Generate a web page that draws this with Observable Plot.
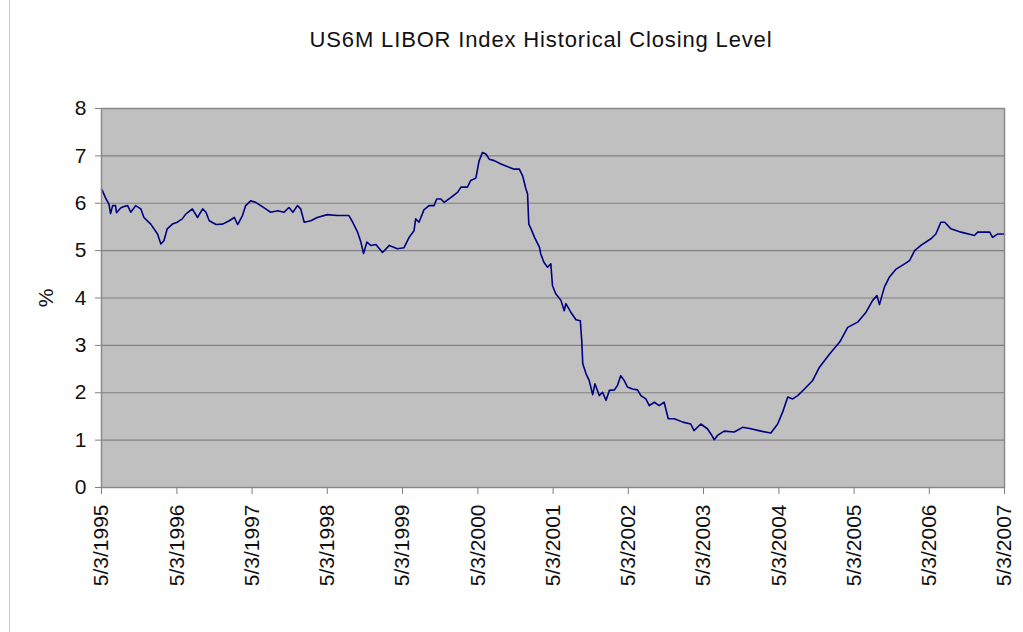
<!DOCTYPE html>
<html>
<head>
<meta charset="utf-8">
<script src="https://cdn.jsdelivr.net/npm/d3@7"></script>
<script src="https://cdn.jsdelivr.net/npm/@observablehq/plot@0.6"></script>
<style>
  html, body { margin: 0; padding: 0; background: #ffffff; }
  body { width: 1023px; height: 632px; position: relative; overflow: hidden; font-family: "Liberation Sans", Arial, sans-serif; }
  #border { position: absolute; left: 9px; top: 0; width: 1008px; height: 632px; border-left: 1px solid #c8c8c8; box-sizing: border-box; }
  #title { position: absolute; left: 0; top: 0; width: 1023px; height: 70px; }
  #title span { position: absolute; left: 541px; top: 27px; transform: translateX(-50%); white-space: nowrap; font-size: 22px; color: #111; letter-spacing: 0.85px; }
  #chart { position: absolute; left: 0; top: 70px; }
</style>
</head>
<body>
<div id="border"></div>
<div id="title"><span>US6M LIBOR Index Historical Closing Level</span></div>
<div id="chart"></div>
<script>
const title = "US6M LIBOR Index Historical Closing Level";
const yLabel = "%";
const xTickDates = ["1995-05-03","1996-05-03","1997-05-03","1998-05-03","1999-05-03","2000-05-03","2001-05-03","2002-05-03","2003-05-03","2004-05-03","2005-05-03","2006-05-03","2007-05-03"];
const yTicks = [0,1,2,3,4,5,6,7,8];

const dates = [
"1995-05-03","1995-05-09","1995-05-22","1995-06-08","1995-06-16","1995-06-26","1995-07-10","1995-07-15","1995-08-04","1995-08-20","1995-09-07","1995-09-22","1995-10-16","1995-11-10","1995-11-25","1995-12-28",
"1996-01-30","1996-02-15","1996-03-01","1996-03-17","1996-04-11","1996-05-05","1996-05-29","1996-06-15","1996-07-17","1996-08-11","1996-09-05","1996-09-21","1996-10-07","1996-11-09","1996-12-11",
"1997-01-12","1997-02-06","1997-02-22","1997-03-17","1997-04-02","1997-04-26","1997-05-20","1997-06-14","1997-07-08","1997-08-01","1997-09-04","1997-10-05","1997-10-29","1997-11-17","1997-12-09","1997-12-25",
"1998-01-11","1998-02-12","1998-03-15","1998-05-03","1998-06-21","1998-08-16","1998-09-03","1998-09-27","1998-10-13","1998-10-26","1998-11-11","1998-11-30","1998-12-25",
"1999-01-26","1999-02-28","1999-04-08","1999-05-10","1999-06-04","1999-06-28","1999-07-06","1999-07-22","1999-08-15","1999-09-09","1999-10-03","1999-10-16","1999-11-05","1999-11-21","1999-12-23",
"2000-01-25","2000-02-11","2000-03-13","2000-03-29","2000-04-23","2000-05-09","2000-05-25","2000-06-11","2000-06-27","2000-07-21","2000-08-23","2000-09-25","2000-10-26","2000-11-20","2000-12-06","2000-12-22","2000-12-30",
"2001-01-05","2001-01-16","2001-02-02","2001-02-26","2001-03-04","2001-03-20","2001-04-06","2001-04-22","2001-04-30","2001-05-16","2001-06-10","2001-06-26","2001-07-04","2001-07-28","2001-08-22","2001-09-12","2001-09-19","2001-09-24","2001-10-10","2001-10-25","2001-11-11","2001-11-22","2001-12-13","2001-12-29",
"2002-01-15","2002-01-31","2002-02-24","2002-03-11","2002-03-27","2002-04-13","2002-04-29","2002-05-23","2002-06-17","2002-07-03","2002-07-27","2002-08-13","2002-09-06","2002-09-30","2002-10-24","2002-11-13","2002-12-12",
"2003-01-23","2003-03-02","2003-03-18","2003-04-20","2003-05-22","2003-06-08","2003-06-24","2003-07-10","2003-08-11","2003-09-29","2003-11-09","2003-12-19",
"2004-02-06","2004-03-25","2004-04-27","2004-05-21","2004-06-15","2004-07-09","2004-08-02","2004-09-04","2004-10-14","2004-11-16",
"2005-01-04","2005-02-22","2005-04-02","2005-05-20","2005-06-30","2005-08-01","2005-08-22","2005-09-03","2005-09-27","2005-10-21","2005-11-23",
"2006-01-03","2006-01-27","2006-02-21","2006-03-23","2006-05-11","2006-06-04","2006-06-28","2006-07-17","2006-08-16","2006-10-04","2006-12-08","2006-12-24",
"2007-02-20","2007-03-06","2007-03-30","2007-05-03"
];
const values = [
6.30,6.25,6.12,5.98,5.78,5.95,5.95,5.80,5.90,5.93,5.95,5.81,5.95,5.88,5.70,5.56,
5.35,5.14,5.21,5.46,5.56,5.60,5.67,5.77,5.88,5.70,5.88,5.81,5.63,5.55,5.56,
5.63,5.70,5.55,5.74,5.95,6.05,6.02,5.95,5.88,5.81,5.84,5.81,5.91,5.81,5.95,5.88,
5.60,5.63,5.70,5.76,5.74,5.74,5.60,5.39,5.18,4.94,5.18,5.11,5.13,
4.96,5.11,5.04,5.06,5.28,5.42,5.67,5.60,5.86,5.95,5.95,6.09,6.09,6.02,6.12,
6.23,6.34,6.34,6.48,6.53,6.90,7.07,7.04,6.93,6.90,6.83,6.77,6.72,6.72,6.58,6.30,6.20,
5.56,5.46,5.28,5.07,4.93,4.75,4.65,4.72,4.26,4.09,3.95,3.73,3.88,3.70,3.54,3.52,3.10,2.61,2.40,2.26,1.96,2.19,1.94,2.01,
1.84,2.05,2.06,2.15,2.36,2.26,2.12,2.08,2.06,1.94,1.87,1.73,1.80,1.73,1.80,1.45,1.45,
1.38,1.34,1.20,1.34,1.24,1.13,1.01,1.10,1.19,1.17,1.27,1.24,
1.19,1.15,1.34,1.59,1.91,1.87,1.94,2.08,2.26,2.54,
2.82,3.07,3.38,3.49,3.70,3.95,4.05,3.86,4.23,4.44,4.61,
4.72,4.79,5.00,5.11,5.25,5.35,5.60,5.60,5.46,5.39,5.32,5.39,
5.39,5.28,5.35,5.35
];

const parse = d3.utcParse("%Y-%m-%d");
const data = dates.map((d, i) => ({date: parse(d), value: values[i]}));
const xTicks = xTickDates.map(parse);
const fmt = d3.utcFormat("%-m/%-d/%Y");

const chart = Plot.plot({
  width: 1023,
  height: 562,
  marginTop: 38,
  marginBottom: 145,
  marginLeft: 101,
  marginRight: 19,
  style: {fontFamily: "'Liberation Sans', Arial, sans-serif", fontSize: "20px", color: "#111", background: "transparent"},
  x: {type: "utc", domain: [xTicks[0], xTicks[xTicks.length - 1]]},
  y: {domain: [0, 8]},
  marks: [
    Plot.frame({fill: "#c0c0c0", stroke: null}),
    Plot.gridY(yTicks, {stroke: "#808080", strokeOpacity: 1, strokeWidth: 1.2}),
    Plot.line(data, {x: "date", y: "value", stroke: "#000080", strokeWidth: 1.6}),
    Plot.frame({stroke: "#8a8a8a", strokeWidth: 1.5}),
    Plot.axisY({ticks: yTicks, tickSize: 6, tickPadding: 9, stroke: "#808080", label: yLabel, labelAnchor: "center", labelArrow: "none", labelOffset: 63, fontSize: 21}),
    Plot.axisX({ticks: xTicks, tickFormat: fmt, tickRotate: -90, tickSize: 7, tickPadding: 10, stroke: "#808080", label: null, fontSize: 21})
  ]
});
document.getElementById("chart").appendChild(chart);
</script>
</body>
</html>
